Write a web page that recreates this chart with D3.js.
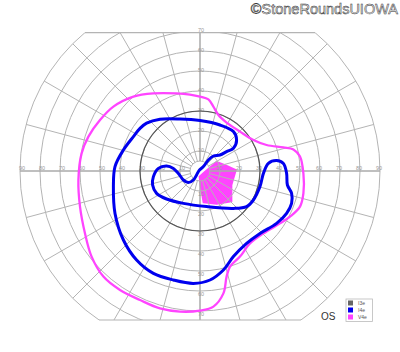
<!DOCTYPE html>
<html>
<head>
<meta charset="utf-8">
<script src="https://cdn.jsdelivr.net/npm/d3@7"></script>
<style>
  body { margin: 0; background: #fff; }
  svg { display: block; font-family: "Liberation Sans", Arial, sans-serif; }
</style>
</head>
<body>
<div id="chart"></div>
<script>
// rings and meridians of the Goldmann form (degrees)
var rings = [5, 10, 20, 30, 40, 50, 60, 70, 80, 90];
var meridians = d3.range(0, 360, 15);
var hLabels = [10, 20, 30, 40, 50, 60, 70, 80, 90];
var vLabels = [10, 20, 30, 40, 50, 60, 70];

// isopters, [x, y] in degrees of visual field (x right, y up)
var i3eEcc = [30, 30, 30, 30, 30, 30, 30, 30, 30, 30, 30, 30,
              30, 30, 30, 30, 30, 30, 30, 30, 30, 30, 30, 30];

var i4e = [[-26.7, 23.9], [-20, 25.9], [-10, 26], [0, 25.2], [10, 23], [16.7, 19.7],
  [18.3, 15.5], [16.7, 11.4], [13.3, 9.7], [10, 8], [6.7, 7.5], [4.2, 5.5],
  [1.7, 2.2], [-0.5, 0.2], [-1.7, -2], [-3.3, -4.5], [-5.8, -5.8], [-8.3, -4.5],
  [-10.8, -1.2], [-13.3, 1.3], [-16.7, 2.5], [-20.8, 1.3], [-23.3, -2.8], [-23.7, -7],
  [-21.7, -11.2], [-16.7, -14], [-8.3, -16.2], [3.3, -17.8], [16.7, -18.7], [23.3, -17.8],
  [26.7, -14.5], [30, -7.8], [31.7, -1.2], [34.2, 3.8], [38.3, 5.2], [41.7, 3.8],
  [43.3, -1.2], [43.7, -7], [45.8, -11.2], [45.8, -16.2], [43.3, -21.2], [38.3, -26.2],
  [30, -31.2], [23.3, -36.2], [16.7, -42.8], [11.7, -49.5], [5, -54.5], [-3.3, -56.2],
  [-13.3, -54.5], [-23.3, -51.2], [-31.7, -44.5], [-38.3, -34.5], [-42.5, -21.2], [-43.3, -7.8],
  [-42.5, 2.2], [-38.3, 10.5], [-33.3, 17.2], [-30, 21.3]];

var v4e = [[0, 37.2], [4.2, 35.8], [6.7, 32.2], [9.2, 28], [13.3, 24.2], [20, 19.7],
  [26.7, 15.5], [33.3, 13], [41.7, 11.8], [46.7, 10.8], [50, 7.2], [51.7, -1.2],
  [51.7, -11.2], [50, -17.8], [45, -22.8], [40, -26.2], [31.7, -31.2], [25, -36.2],
  [20, -42.8], [15, -47.8], [13.3, -52.8], [11.7, -61.2], [6.7, -67.8], [0, -69.8],
  [-10, -70.3], [-20, -68.7], [-30, -64.5], [-40, -59.5], [-48.3, -52.8], [-54.2, -42.8],
  [-57.5, -31.2], [-60, -17.8], [-60.8, -4.5], [-59.2, 8.8], [-55.8, 17.2], [-50, 25.5],
  [-43.3, 32.2], [-33.3, 37.2], [-23.3, 38.8], [-11.7, 38.8], [-5, 38.2]];

// V4e scotoma near fixation
var v4eScotoma = [[8.3, 4.7], [12.5, 3], [18, 0.5], [15.8, -7], [15.8, -15.3], [8.3, -16.5],
  [1.7, -15.8], [0.3, -7.8], [-0.3, -2.8], [2.5, -0.3], [5.8, 2.5]];

var legendNames = ["I3e", "I4e", "V4e"];
var legendColors = ["#666666", "#0000ee", "#ff44ff"];

var width = 400, height = 352;
var cx = 200, cy = 171;

var x = d3.scaleLinear().domain([-90, 90]).range([cx - 180, cx + 180]);
var y = d3.scaleLinear().domain([-90, 90]).range([cy + 180, cy - 180]);
var r = d3.scaleLinear().domain([0, 90]).range([0, 180]);

var svg = d3.select("#chart").append("svg")
  .attr("width", width)
  .attr("height", height);

var topY = 32.7, botY = 320;

svg.append("clipPath").attr("id", "form")
  .append("rect")
  .attr("x", 0).attr("y", topY)
  .attr("width", width).attr("height", botY - topY);

var line = d3.line()
  .x(function(d) { return x(d[0]); })
  .y(function(d) { return y(d[1]); });

// scotoma fill under the grid
svg.append("path")
  .datum(v4eScotoma)
  .attr("d", line.curve(d3.curveLinearClosed))
  .style("fill", "#ff44ff")
  .style("stroke", "#ff44ff")
  .style("stroke-width", 1.5)
  .style("stroke-linejoin", "round");

var grid = svg.append("g")
  .attr("clip-path", "url(#form)")
  .append("g")
  .attr("transform", "translate(" + cx + "," + cy + ")");

grid.selectAll("circle")
  .data(rings)
.enter().append("circle")
  .attr("r", function(d) { return r(d); })
  .style("fill", "none")
  .style("stroke", "#b4b4b4")
  .style("stroke-width", 1);

grid.selectAll("line.meridian")
  .data(meridians)
.enter().append("line")
  .attr("class", "meridian")
  .attr("x1", function(d) { return r(5) * Math.cos(d * Math.PI / 180); })
  .attr("y1", function(d) { return -r(5) * Math.sin(d * Math.PI / 180); })
  .attr("x2", function(d) { return r(90) * Math.cos(d * Math.PI / 180); })
  .attr("y2", function(d) { return -r(90) * Math.sin(d * Math.PI / 180); })
  .style("stroke", function(d) { return d % 90 === 0 ? "#aaa" : "#b4b4b4"; })
  .style("stroke-width", function(d) { return d % 90 === 0 ? 1.5 : 1; });

// top and bottom edges of the form
[topY, botY].forEach(function(yy) {
  var half = Math.sqrt(r(90) * r(90) - (yy - cy) * (yy - cy));
  svg.append("line")
    .attr("x1", cx - half).attr("x2", cx + half)
    .attr("y1", yy).attr("y2", yy)
    .style("stroke", "#b4b4b4")
    .style("stroke-width", 1.2);
});

// degree labels
var labels = svg.append("g")
  .style("font-size", "5.5px")
  .style("fill", "#999")
  .style("text-anchor", "middle");

hLabels.forEach(function(d) {
  [-d, d].forEach(function(v) {
    labels.append("text")
      .attr("x", x(v) + (v < 0 ? 2 : -1))
      .attr("y", cy - 1)
      .text(d);
  });
});

vLabels.forEach(function(d) {
  labels.append("text").attr("x", cx + 1).attr("y", y(d) + 1).text(d);
  labels.append("text").attr("x", cx + 1).attr("y", y(-d) + 5).text(d);
});

// isopters
var radial = d3.lineRadial()
  .angle(function(d, i) { return (90 - meridians[i]) * Math.PI / 180; })
  .radius(function(d) { return r(d); })
  .curve(d3.curveCardinalClosed);

svg.append("path")
  .datum(i3eEcc)
  .attr("transform", "translate(" + cx + "," + cy + ")")
  .attr("d", radial)
  .style("fill", "none")
  .style("stroke", "#555")
  .style("stroke-width", 1.2);

var smooth = d3.line()
  .x(function(d) { return x(d[0]); })
  .y(function(d) { return y(d[1]); })
  .curve(d3.curveCatmullRomClosed.alpha(0.5));

svg.append("path")
  .datum(v4e)
  .attr("d", smooth)
  .style("fill", "none")
  .style("stroke", "#ff44ff")
  .style("stroke-width", 2.3);

svg.append("path")
  .datum(i4e)
  .attr("d", smooth)
  .style("fill", "none")
  .style("stroke", "#0000ee")
  .style("stroke-width", 3);

// eye and legend
svg.append("text")
  .attr("x", 321)
  .attr("y", 320)
  .style("font-size", "10px")
  .style("fill", "#333")
  .text("OS");

var legend = svg.append("g").attr("transform", "translate(346,299)");

legend.append("rect")
  .attr("width", 26.5)
  .attr("height", 22.5)
  .style("fill", "#fff")
  .style("stroke", "#bbb")
  .style("stroke-width", 0.8);

var item = legend.selectAll("g")
  .data(legendNames)
.enter().append("g")
  .attr("transform", function(d, i) { return "translate(2," + (1.5 + i * 7) + ")"; });

item.append("rect")
  .attr("width", 5)
  .attr("height", 5)
  .style("fill", function(d, i) { return legendColors[i]; });

item.append("text")
  .attr("x", 10)
  .attr("y", 4.5)
  .style("font-size", "5px")
  .style("fill", "#555")
  .text(function(d) { return d; });

// watermark
svg.append("text")
  .attr("x", 398)
  .attr("y", 14)
  .style("text-anchor", "end")
  .style("font-size", "14.5px")
  .style("fill", "#eee")
  .style("stroke", "#333")
  .style("stroke-width", 0.5)
  .text("\u00a9StoneRoundsUIOWA");
</script>
</body>
</html>
